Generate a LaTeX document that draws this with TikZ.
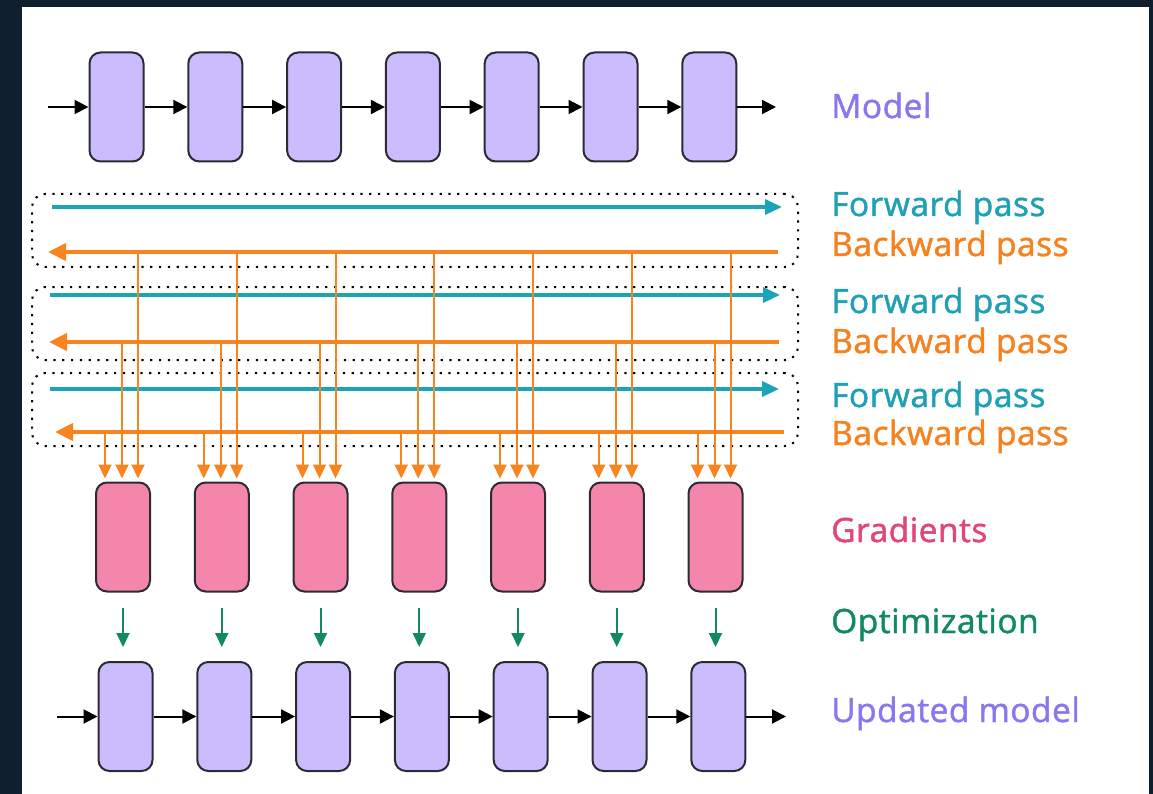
\documentclass[tikz,border=0pt]{standalone}
\usepackage{fontspec}
\setmainfont{Open Sans}
\newfontfamily\labelfont[FakeBold=1.4, LetterSpace=1.5]{Open Sans}
\usetikzlibrary{arrows.meta,calc}
\definecolor{framebg}{HTML}{0F1F2E}
\definecolor{boxedge}{HTML}{2B2A35}
\definecolor{lav}{HTML}{CBBDFD}
\definecolor{gradfill}{HTML}{F485AB}
\definecolor{teal}{HTML}{1BA3B8}
\definecolor{orng}{HTML}{F7841F}
\definecolor{optgreen}{HTML}{12895E}
\definecolor{lblpurple}{HTML}{8C76F0}
\definecolor{lblpink}{HTML}{E0457B}
\definecolor{lblteal}{HTML}{1FA0B5}
\definecolor{lblorange}{HTML}{F5821F}
\tikzset{
  layerbox/.style={draw=boxedge, line width=2pt, rounded corners=11pt,
    minimum width=54pt, minimum height=109pt, inner sep=0pt},
  modelbox/.style={layerbox, fill=lav},
  gradbox/.style={layerbox, fill=gradfill},
  blk/.style={line width=2pt, -{Triangle[length=14pt,width=14pt]}},
  fwd/.style={teal, line width=3.5pt, -{Triangle[length=17pt,width=15pt]}},
  bwd/.style={orng, line width=4pt, -{Triangle[length=18pt,width=17pt]}},
  overt/.style={orng, line width=2pt, -{Triangle[length=14pt,width=13pt]}},
  optarrow/.style={optgreen, line width=2pt, -{Triangle[length=14pt,width=13pt]}},
  dotbox/.style={draw=black, line width=2pt, dash pattern=on 2.2pt off 6.6pt,
    rounded corners=13pt, inner sep=0pt},
  lbl/.style={anchor=base west, inner sep=0pt, font=\labelfont\fontsize{33.5}{38}\selectfont},
}
\begin{document}
\begin{tikzpicture}[x=1pt,y=-1pt]
% dark frame and white panel
\fill[framebg] (0,0) rectangle (1153,794);
\fill[white] (22,7) rectangle (1149,794);
\useasboundingbox (0,0) rectangle (1153,794);

% model layers
\foreach \i in {1,...,7}
  \node[modelbox] (m\i) at ({116.5+98.8*(\i-1)},107) {};
\coordinate (min) at (48,107);
\coordinate (mout) at (776,107);
\draw[blk] (min) -- (m1.west);
\foreach \i [evaluate=\i as \j using int(\i+1)] in {1,...,6}
  \draw[blk] (m\i.east) -- (m\j.west);
\draw[blk] (m7.east) -- (mout);

% gradient buffers
\foreach \i in {1,...,7}
  \node[gradbox] (g\i) at ({123+98.75*(\i-1)},537) {};

% updated model layers
\foreach \i in {1,...,7}
  \node[modelbox] (u\i) at ({125.5+98.8*(\i-1)},716.5) {};
\coordinate (uin) at (57,716.5);
\coordinate (uout) at (786,716.5);
\draw[blk] (uin) -- (u1.west);
\foreach \i [evaluate=\i as \j using int(\i+1)] in {1,...,6}
  \draw[blk] (u\i.east) -- (u\j.west);
\draw[blk] (u7.east) -- (uout);

% micro-batch groups
\node[dotbox, minimum width=766pt, minimum height=73pt] (grp1) at (415,230.5) {};
\node[dotbox, minimum width=766pt, minimum height=73pt] (grp2) at (415,323.5) {};
\node[dotbox, minimum width=766pt, minimum height=73pt] (grp3) at (415,409.5) {};

% forward / backward passes
\coordinate (f1s) at (52,207);  \coordinate (f1e) at (782,207);
\coordinate (b1s) at (778,252); \coordinate (b1e) at (48,252);
\coordinate (f2s) at (50,295);  \coordinate (f2e) at (780,295);
\coordinate (b2s) at (779,342); \coordinate (b2e) at (49,342);
\coordinate (f3s) at (50,389);  \coordinate (f3e) at (779,389);
\coordinate (b3s) at (784,432); \coordinate (b3e) at (55,432);
\draw[fwd] (f1s) -- (f1e);
\draw[fwd] (f2s) -- (f2e);
\draw[fwd] (f3s) -- (f3e);
\draw[bwd] (b1s) -- (b1e);
\draw[bwd] (b2s) -- (b2e);
\draw[bwd] (b3s) -- (b3e);

% gradients accumulated from each backward pass
\foreach \i in {1,...,7} {
  \coordinate (ta\i) at ([xshift=15pt]g\i.north);
  \coordinate (tb\i) at ([xshift=-1pt]g\i.north);
  \coordinate (tc\i) at ([xshift=-18pt]g\i.north);
  \draw[overt] (ta\i |- b1s) -- ([yshift=3pt]ta\i);
  \draw[overt] (tb\i |- b2s) -- ([yshift=3pt]tb\i);
  \draw[overt] (tc\i |- b3s) -- ([yshift=3pt]tc\i);
}

% optimizer step
\foreach \i in {1,...,7}
  \draw[optarrow, shorten <=15pt, shorten >=14pt] (g\i.south) -- (g\i.south |- u\i.north);

% labels
\node[lbl, text=lblpurple] (lmodel) at (831,118) {Model};
\node[lbl, text=lblteal]   (lf1) at (831,216) {Forward pass};
\node[lbl, text=lblorange] (lb1) at (831,256) {Backward pass};
\node[lbl, text=lblteal]   (lf2) at (831,313) {Forward pass};
\node[lbl, text=lblorange] (lb2) at (831,353) {Backward pass};
\node[lbl, text=lblteal]   (lf3) at (831,407) {Forward pass};
\node[lbl, text=lblorange] (lb3) at (831,445) {Backward pass};
\node[lbl, text=lblpink]   (lgrad) at (831,542) {Gradients};
\node[lbl, text=optgreen]  (lopt) at (831,633) {Optimization};
\node[lbl, text=lblpurple] (lupd) at (831,722) {Updated model};
\end{tikzpicture}
\end{document}
